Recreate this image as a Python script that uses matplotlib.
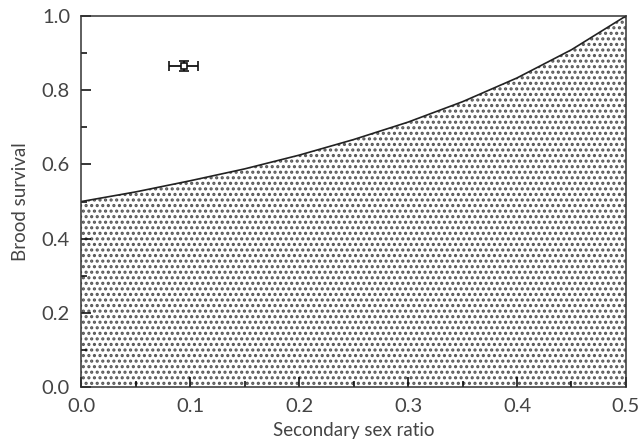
import numpy as np
from matplotlib import pyplot as plt
from matplotlib.ticker import MultipleLocator

# Boundary curve
sex_ratio = [0.0, 0.05, 0.10, 0.15, 0.20, 0.25, 0.30, 0.35, 0.40, 0.45, 0.50]
survival = [0.500, 0.526, 0.556, 0.588, 0.625, 0.667, 0.714, 0.769, 0.833, 0.909, 1.0]

# Observed point with error bars
obs_x = [0.094]
obs_y = [0.865]
obs_xerr = [0.013]
obs_yerr = [0.014]

x_ticks = [0.0, 0.1, 0.2, 0.3, 0.4, 0.5]
x_labels = ["0.0", "0.1", "0.2", "0.3", "0.4", "0.5"]
y_ticks = [0.0, 0.2, 0.4, 0.6, 0.8, 1.0]
y_labels = ["0.0", "0.2", "0.4", "0.6", "0.8", "1.0"]

plt.rcParams["font.family"] = ["Lato", "DejaVu Sans"]
plt.rcParams["hatch.linewidth"] = 1.5
plt.rcParams["hatch.color"] = "#555555"

fig = plt.figure(figsize=(6.44, 4.43), dpi=100)
ax = fig.add_axes([0.126, 0.126, 0.846, 0.838])

# stippled region under the curve
ax.fill_between(sex_ratio, 0, survival, facecolor="white", hatch="...",
                edgecolor="#555555", linewidth=0)
ax.plot(sex_ratio, survival, color="#222222", lw=1.2)

ax.errorbar(obs_x, obs_y, xerr=obs_xerr, yerr=obs_yerr, fmt="s",
            ms=4, mfc="white", mec="#111111", mew=1.2, ecolor="#111111",
            elinewidth=1.3, capsize=3.5, capthick=1.3)

ax.set_xlim(0, 0.5)
ax.set_ylim(0, 1.0)
ax.set_xticks(x_ticks, x_labels)
ax.set_yticks(y_ticks, y_labels)
ax.xaxis.set_minor_locator(MultipleLocator(0.05))
ax.yaxis.set_minor_locator(MultipleLocator(0.1))
ax.tick_params(which="major", direction="in", length=7, width=1.1,
               labelsize=14.5, labelcolor="#444444", pad=8)
ax.tick_params(which="minor", direction="in", length=4.5, width=1.1)
for s in ax.spines.values():
    s.set_linewidth(1.1)
    s.set_color("#333333")

ax.set_xlabel("Secondary sex ratio", fontsize=13.5, color="#444444", labelpad=5)
ax.set_ylabel("Brood survival", fontsize=13.5, color="#444444", labelpad=9)

plt.savefig("out.png", dpi=100)
